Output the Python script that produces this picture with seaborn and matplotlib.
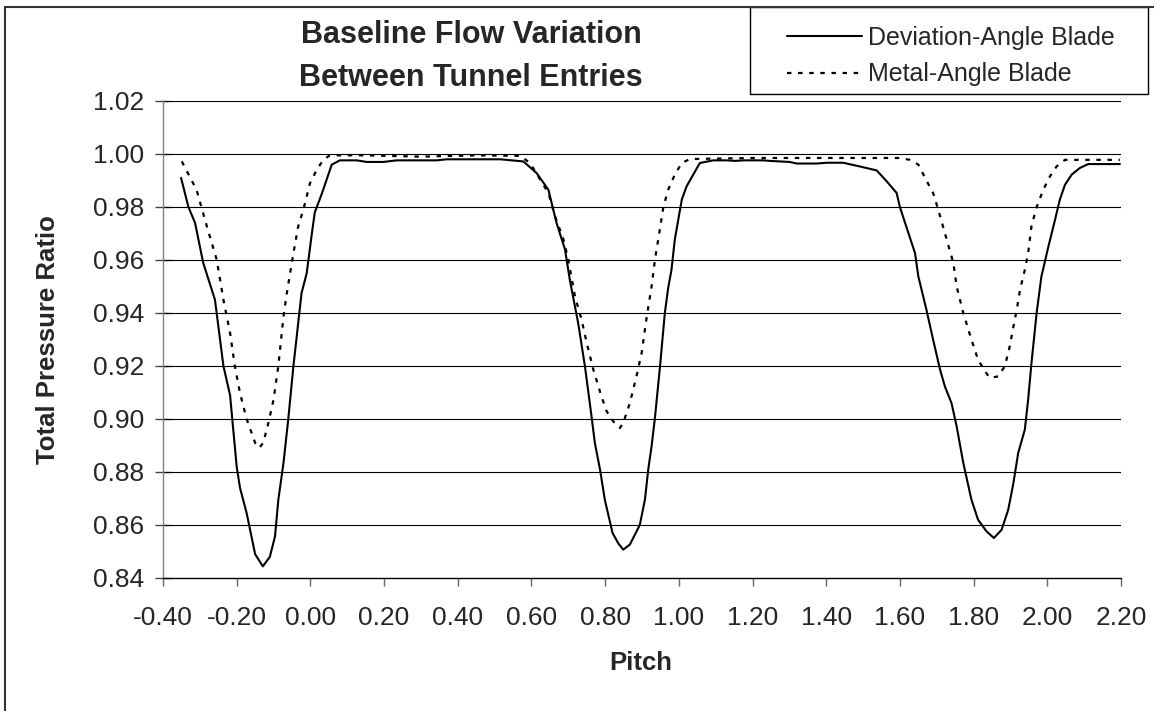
import pandas as pd
import matplotlib
matplotlib.use("Agg")
import matplotlib.pyplot as plt
from matplotlib.patches import Rectangle
import seaborn as sns

sns.set_style("white")
matplotlib.rcParams['font.family'] = ["Liberation Sans", "DejaVu Sans"]

# %% data

# Deviation-Angle Blade (solid)
devPitch = [-0.351, -0.331, -0.313, -0.291, -0.259, -0.236, -0.218, -0.200, -0.191, -0.173,
            -0.150, -0.129, -0.110, -0.096, -0.087, -0.073, -0.060, -0.046, -0.024, -0.010,
            0.004, 0.012, 0.031, 0.058, 0.080, 0.126, 0.153, 0.198, 0.234, 0.343,
            0.370, 0.450, 0.515, 0.578, 0.614, 0.646, 0.668, 0.691, 0.704, 0.727,
            0.745, 0.763, 0.772, 0.786, 0.799, 0.820, 0.836, 0.849, 0.867, 0.894,
            0.908, 0.917, 0.926, 0.935, 0.949, 0.962, 0.971, 0.980, 0.989, 1.008,
            1.021, 1.039, 1.057, 1.093, 1.130, 1.152, 1.175, 1.229, 1.247, 1.301,
            1.320, 1.374, 1.401, 1.446, 1.491, 1.537, 1.564, 1.591, 1.600, 1.614,
            1.641, 1.650, 1.672, 1.690, 1.709, 1.722, 1.740, 1.754, 1.772, 1.794,
            1.812, 1.835, 1.855, 1.876, 1.894, 1.908, 1.921, 1.939, 1.948, 1.957,
            1.971, 1.984, 2.003, 2.021, 2.034, 2.048, 2.066, 2.088, 2.111, 2.197]
devRatio = [0.991, 0.980, 0.974, 0.959, 0.945, 0.920, 0.909, 0.882, 0.874, 0.8645,
            0.849, 0.8444, 0.848, 0.8557, 0.8695, 0.8834, 0.900, 0.920, 0.9475, 0.955,
            0.970, 0.978, 0.985, 0.996, 0.9976, 0.9976, 0.997, 0.997, 0.9976, 0.9976,
            0.998, 0.998, 0.998, 0.9972, 0.9928, 0.9865, 0.974, 0.964, 0.9526, 0.936,
            0.920, 0.901, 0.891, 0.881, 0.8696, 0.857, 0.853, 0.8507, 0.8526, 0.860,
            0.8696, 0.881, 0.8897, 0.9003, 0.920, 0.940, 0.9494, 0.9563, 0.9677, 0.9828,
            0.9878, 0.9922, 0.9966, 0.9976, 0.9976, 0.9974, 0.9976, 0.9976, 0.9974, 0.997,
            0.9964, 0.9964, 0.9967, 0.9967, 0.9953, 0.9938, 0.9897, 0.9853, 0.980, 0.974,
            0.9626, 0.9538, 0.9412, 0.930, 0.9186, 0.9123, 0.906, 0.8972, 0.8834, 0.8696,
            0.862, 0.8576, 0.8551, 0.8582, 0.8658, 0.8758, 0.8872, 0.896, 0.9073, 0.9211,
            0.940, 0.9538, 0.9651, 0.9752, 0.9828, 0.9884, 0.9922, 0.9947, 0.9962, 0.9962]

# Metal-Angle Blade (dotted)
metPitch = [-0.349, -0.309, -0.281, -0.254, -0.236, -0.218, -0.205, -0.191, -0.173, -0.150,
            -0.139, -0.128, -0.114, -0.100, -0.087, -0.073, -0.064, -0.046, -0.033, -0.019,
            -0.001, 0.017, 0.035, 0.053, 0.150, 0.300, 0.450, 0.570, 0.596, 0.646,
            0.664, 0.687, 0.700, 0.718, 0.736, 0.750, 0.768, 0.790, 0.804, 0.822,
            0.840, 0.849, 0.867, 0.885, 0.899, 0.913, 0.926, 0.935, 0.944, 0.958,
            0.971, 0.989, 1.008, 1.030, 1.200, 1.400, 1.600, 1.627, 1.650, 1.672,
            1.690, 1.704, 1.727, 1.745, 1.754, 1.772, 1.794, 1.812, 1.831, 1.844,
            1.867, 1.885, 1.898, 1.908, 1.917, 1.926, 1.939, 1.948, 1.957, 1.971,
            1.989, 2.007, 2.025, 2.048, 2.197]
metRatio = [0.9972, 0.9865, 0.9727, 0.960, 0.945, 0.9325, 0.920, 0.9098, 0.900, 0.891,
            0.8891, 0.891, 0.8985, 0.9073, 0.920, 0.9387, 0.9475, 0.9626, 0.9727, 0.979,
            0.989, 0.994, 0.9978, 0.9995, 0.9995, 0.999, 0.9995, 0.9993, 0.9966, 0.9853,
            0.9765, 0.9677, 0.960, 0.9463, 0.9375, 0.9287, 0.9186, 0.9085, 0.9029, 0.8991,
            0.8966, 0.8985, 0.906, 0.9161, 0.9249, 0.9387, 0.950, 0.960, 0.9677, 0.980,
            0.9865, 0.9922, 0.9966, 0.9981, 0.9985, 0.9985, 0.9985, 0.9978, 0.996, 0.990,
            0.9853, 0.979, 0.9677, 0.9589, 0.950, 0.940, 0.930, 0.9224, 0.918, 0.9155,
            0.9161, 0.920, 0.9274, 0.9349, 0.9412, 0.9488, 0.9563, 0.9626, 0.9727, 0.980,
            0.9865, 0.9915, 0.9953, 0.9978, 0.9978]

xTicks = [-0.40, -0.20, 0.00, 0.20, 0.40, 0.60, 0.80, 1.00, 1.20, 1.40, 1.60, 1.80, 2.00, 2.20]
yTicks = [0.84, 0.86, 0.88, 0.90, 0.92, 0.94, 0.96, 0.98, 1.00, 1.02]

# %% plot

W, H = 1154, 711
fig = plt.figure(figsize=(W/100, H/100), dpi=100)
ax = fig.add_axes([163/W, 1-578/H, 958/W, 477/H])

devDf = pd.DataFrame({"pitch": devPitch, "ratio": devRatio})
metDf = pd.DataFrame({"pitch": metPitch, "ratio": metRatio})

sns.lineplot(data=devDf, x="pitch", y="ratio", ax=ax, color="black", linewidth=1.5,
             estimator=None, label="Deviation-Angle Blade", zorder=3)
sns.lineplot(data=metDf, x="pitch", y="ratio", ax=ax, color="black", linewidth=1.6,
             linestyle=(0, (2, 3)), estimator=None, label="Metal-Angle Blade", zorder=3)

ax.set_xlim(-0.40, 2.20)
ax.set_ylim(0.84, 1.02)
ax.set_xticks(xTicks)
ax.set_yticks(yTicks)
ax.set_xticklabels([f"{t:.2f}" for t in xTicks])
ax.set_yticklabels([f"{t:.2f}" for t in yTicks])

ax.grid(False)
for t in yTicks[1:]:
    ax.axhline(t, color="black", linewidth=0.8, zorder=1)

for s in ["top", "right"]:
    ax.spines[s].set_visible(False)
ax.spines["left"].set_color("#808080")
ax.spines["left"].set_linewidth(1.0)
ax.spines["bottom"].set_color("black")
ax.spines["bottom"].set_linewidth(1.0)

ax.tick_params("x", direction="out", length=6, width=1, color="#666666", pad=14,
               labelsize=19, bottom=True)
ax.tick_params("y", direction="inout", length=11, width=1, color="#444444", pad=8,
               labelsize=19, left=True)

ax.set_xlabel("Pitch", fontsize=18.5, fontweight="bold")
ax.set_ylabel("Total Pressure Ratio", fontsize=18.5, fontweight="bold")
ax.xaxis.set_label_coords(0.499, -0.153)
ax.yaxis.set_label_coords(-0.108, 0.5)

fig.text(471/W, 1-56.5/H, "Baseline Flow Variation\nBetween Tunnel Entries",
         ha="center", va="center", fontsize=22, fontweight="bold", linespacing=1.55)

ax.get_legend().remove()
handles, labels = ax.get_legend_handles_labels()
leg = fig.legend(handles, labels, loc="upper left",
                 bbox_to_anchor=(777/W, 1-16/H), borderaxespad=0,
                 fontsize=18, handlelength=3, handletextpad=0.25, labelspacing=0.5,
                 borderpad=0.4, frameon=False)

# legend box, wider than its content as in the reference
fig.patches.append(Rectangle((750/W, 1-94/H), 398/W, 87/H, transform=fig.transFigure,
                             fill=False, edgecolor="black", linewidth=1.0))

# chart border (cut off at right and bottom in the reference)
fig.patches.append(Rectangle((5/W, -0.1), 1.2, 1.1-7/H, transform=fig.transFigure,
                             fill=False, edgecolor="#333333", linewidth=1.5))

plt.savefig("out.png", dpi=100)
